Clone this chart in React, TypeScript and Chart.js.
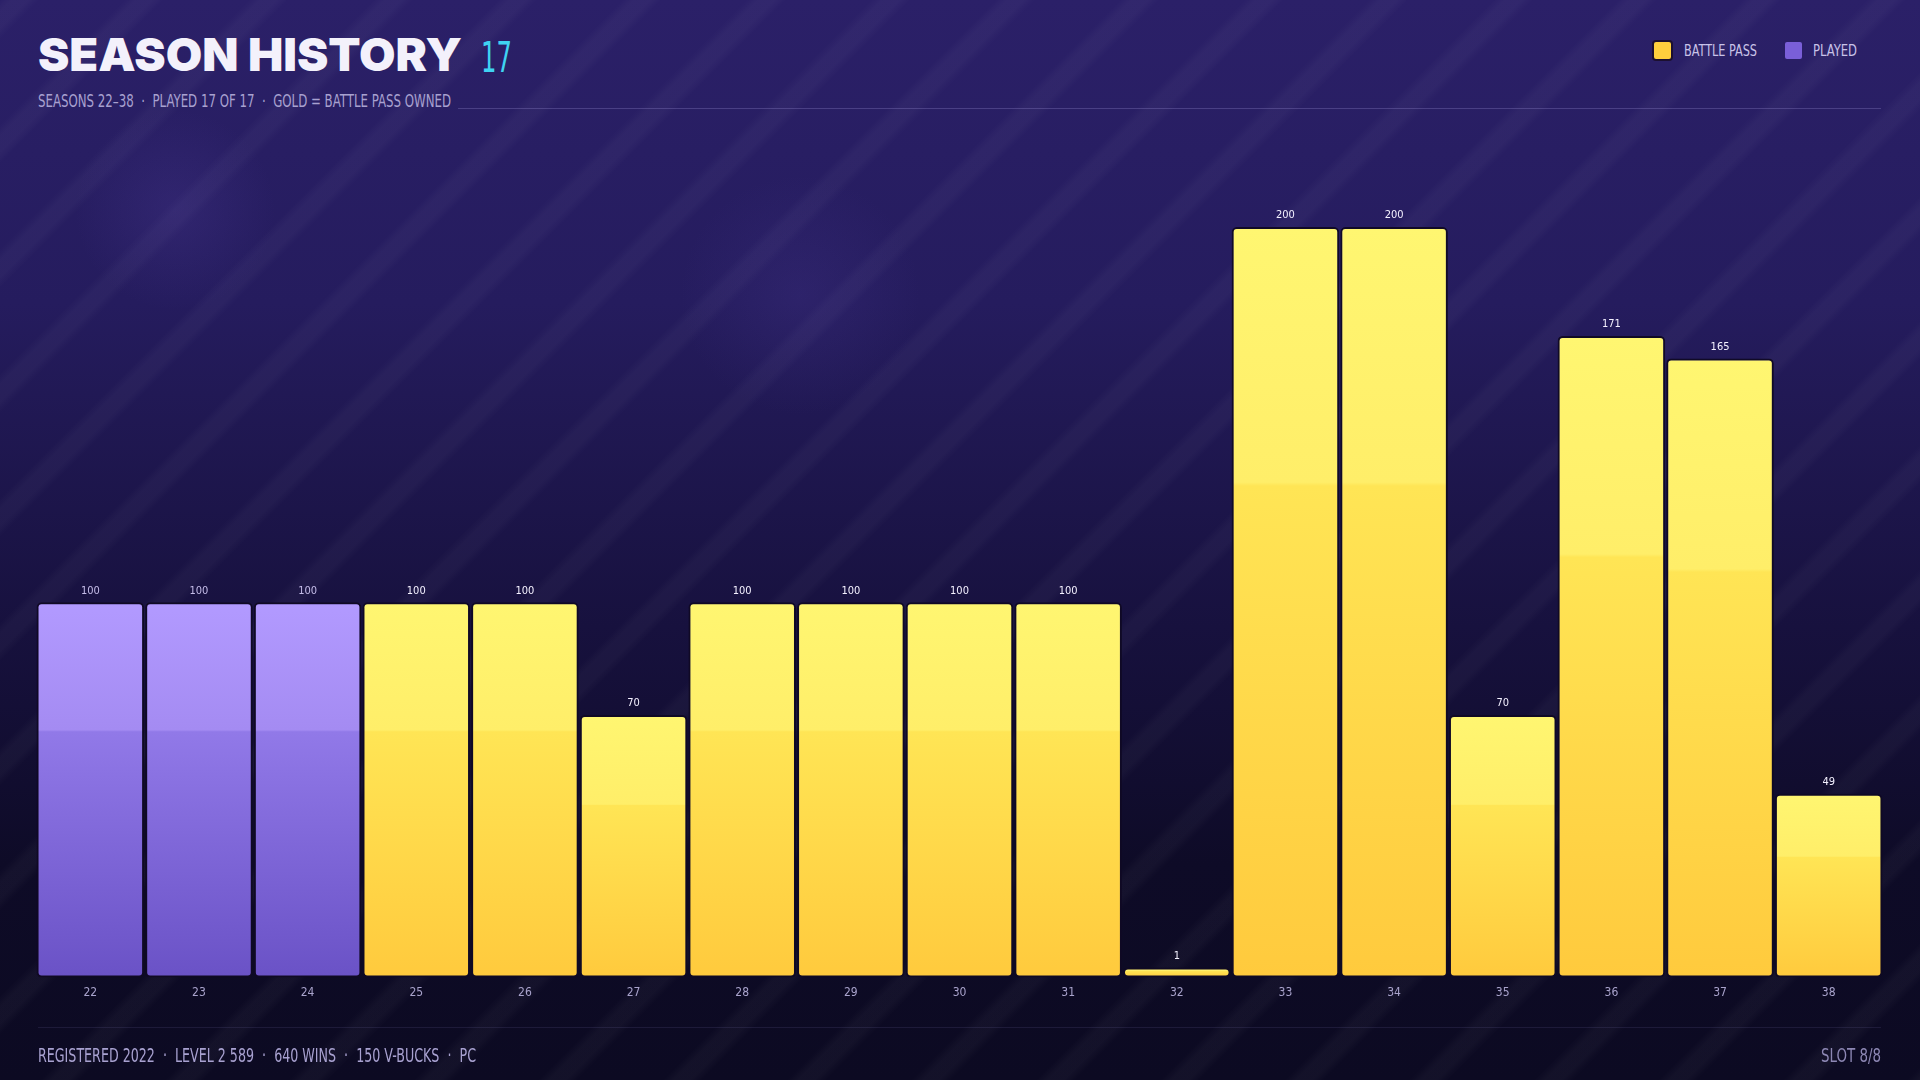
import React, { useEffect, useLayoutEffect, useRef } from 'react';
import { Chart, registerables } from 'chart.js';

Chart.register(...registerables);

const seasons = ['22', '23', '24', '25', '26', '27', '28', '29', '30', '31', '32', '33', '34', '35', '36', '37', '38'];
const seasonValues = [100, 100, 100, 100, 100, 70, 100, 100, 100, 100, 1, 200, 200, 70, 171, 165, 49];
const battlePassOwned = [false, false, false, true, true, true, true, true, true, true, true, true, true, true, true, true, true];
const legendLabels = ['BATTLE PASS', 'PLAYED'];
const titleText = 'SEASON HISTORY';
const titleCount = '17';
const subtitleText = 'SEASONS 22–38  ·  PLAYED 17 OF 17  ·  GOLD = BATTLE PASS OWNED';
const footerLeft = 'REGISTERED 2022  ·  LEVEL 2 589  ·  640 WINS  ·  150 V-BUCKS  ·  PC';
const footerRight = 'SLOT 8/8';

const COND = "'Liberation Sans Narrow', 'Arial Narrow', 'DejaVu Sans Condensed', 'Roboto Condensed', sans-serif";

function barFill(c: any) {
  const chart = c.chart;
  const i = c.dataIndex;
  const gold = battlePassOwned[i];
  const ys = chart.scales && chart.scales.y;
  if (!chart.chartArea || !ys || i === undefined) return gold ? '#ffd84a' : '#8f75e6';
  let top = ys.getPixelForValue(seasonValues[i]);
  const base = ys.getPixelForValue(0);
  if (base - top < 10) top = base - 10;
  const g = chart.ctx.createLinearGradient(0, top, 0, base);
  if (gold) {
    g.addColorStop(0, '#fff671');
    g.addColorStop(0.34, '#ffee69');
    g.addColorStop(0.345, '#ffe555');
    g.addColorStop(1, '#ffca3d');
  } else {
    g.addColorStop(0, '#b29aff');
    g.addColorStop(0.34, '#a48bf2');
    g.addColorStop(0.345, '#9179e8');
    g.addColorStop(1, '#6a52c6');
  }
  return g;
}

const valueLabels = {
  id: 'valueLabels',
  afterDatasetsDraw(chart: any) {
    const { ctx } = chart;
    const meta = chart.getDatasetMeta(0);
    ctx.save();
    ctx.font = `400 11px ${COND}`;
    ctx.textAlign = 'center';
    ctx.textBaseline = 'bottom';
    meta.data.forEach((el: any, i: number) => {
      ctx.fillStyle = battlePassOwned[i] ? '#f4f1ff' : '#c4bce8';
      ctx.fillText(String(seasonValues[i]), el.x, el.y - 6);
    });
    ctx.restore();
  },
};

function Fit(props: { text: string; x: number; y: number; w: number; size: number; right?: boolean; style?: any }) {
  const ref = useRef<HTMLDivElement>(null);
  useLayoutEffect(() => {
    const el = ref.current;
    if (!el) return;
    el.style.transform = 'none';
    const m = el.getBoundingClientRect().width;
    if (m > 0) el.style.transform = `scaleX(${props.w / m})`;
  }, [props.text, props.w]);
  return (
    <div
      ref={ref}
      style={{
        position: 'absolute',
        left: props.right ? props.x - props.w : props.x,
        top: props.y,
        fontSize: props.size,
        lineHeight: 1,
        whiteSpace: 'pre',
        transformOrigin: 'left top',
        fontFamily: COND,
        ...props.style,
      }}
    >
      {props.text}
    </div>
  );
}

export default function App() {
  const canvasRef = useRef<HTMLCanvasElement>(null);

  useEffect(() => {
    document.body.style.margin = '0';
    const canvas = canvasRef.current;
    if (!canvas) return;
    const chart = new Chart(canvas, {
      type: 'bar',
      data: {
        labels: seasons,
        datasets: [
          {
            data: seasonValues,
            backgroundColor: barFill as any,
            borderColor: 'rgba(16, 9, 36, 0.95)',
            borderWidth: 2,
            borderRadius: 5,
            borderSkipped: false,
            barPercentage: 0.99,
            categoryPercentage: 1,
            minBarLength: 10,
          },
        ],
      },
      options: {
        responsive: false,
        animation: false,
        layout: { padding: { left: 36, right: 37, top: 152, bottom: 72 } },
        plugins: { legend: { display: false }, tooltip: { enabled: false } },
        scales: {
          x: {
            grid: { display: false, drawTicks: false },
            border: { display: false },
            ticks: { color: '#a9a3cc', font: { family: COND, size: 12 }, padding: 8 },
          },
          y: { display: false, min: 0, max: 220 },
        },
      },
      plugins: [valueLabels],
    });
    return () => chart.destroy();
  }, []);

  const bg = [
    'radial-gradient(circle at 175px 210px, rgba(90,70,170,0.2), rgba(90,70,170,0) 100px)',
    'radial-gradient(circle at 800px 295px, rgba(90,70,170,0.16), rgba(90,70,170,0) 120px)',
    'repeating-linear-gradient(135deg, rgba(255,255,255,0) 0px, rgba(255,255,255,0.032) 8px, rgba(255,255,255,0.032) 20px, rgba(255,255,255,0) 28px, rgba(255,255,255,0) 88px)',
    'linear-gradient(180deg, #2b2068 0%, #251c5e 28%, #17113e 58%, #0e0b27 80%, #0c0a22 100%)',
  ].join(', ');

  return (
    <div style={{ position: 'fixed', left: 0, top: 0, width: 1920, height: 1080, overflow: 'hidden', background: bg }}>
      <Fit text={titleText} x={38} y={31} w={424} size={46} style={{ fontFamily: "Inter, Lato, 'Noto Sans', sans-serif", fontWeight: 900, color: '#f3f1fb' }} />
      <Fit text={titleCount} x={481} y={37} w={31} size={42} style={{ color: '#3fd3f2' }} />
      <Fit text={subtitleText} x={38} y={92} w={413} size={18} style={{ color: '#a8a1d0' }} />
      <div style={{ position: 'absolute', left: 458, top: 108, width: 1423, height: 1, background: 'rgba(160,150,220,0.28)' }} />

      <div style={{ position: 'absolute', left: 1652, top: 40, width: 17, height: 17, borderRadius: 4, background: '#ffcf3d', border: '2px solid #1c1030' }} />
      <Fit text={legendLabels[0]} x={1684} y={43} w={73} size={16} style={{ color: '#c9c3e8' }} />
      <div style={{ position: 'absolute', left: 1783, top: 40, width: 17, height: 17, borderRadius: 4, background: '#7a5fd8', border: '2px solid #2a1f66' }} />
      <Fit text={legendLabels[1]} x={1813} y={43} w={44} size={16} style={{ color: '#c9c3e8' }} />

      <canvas ref={canvasRef} width={1920} height={1080} style={{ position: 'absolute', left: 0, top: 0, width: 1920, height: 1080 }} />

      <div style={{ position: 'absolute', left: 38, top: 1027, width: 1843, height: 1, background: 'rgba(160,150,220,0.12)' }} />
      <Fit text={footerLeft} x={38} y={1046} w={438} size={19} style={{ color: '#a8a1d0' }} />
      <Fit text={footerRight} x={1881} y={1046} w={60} size={19} right style={{ color: '#8d87b4' }} />
    </div>
  );
}
